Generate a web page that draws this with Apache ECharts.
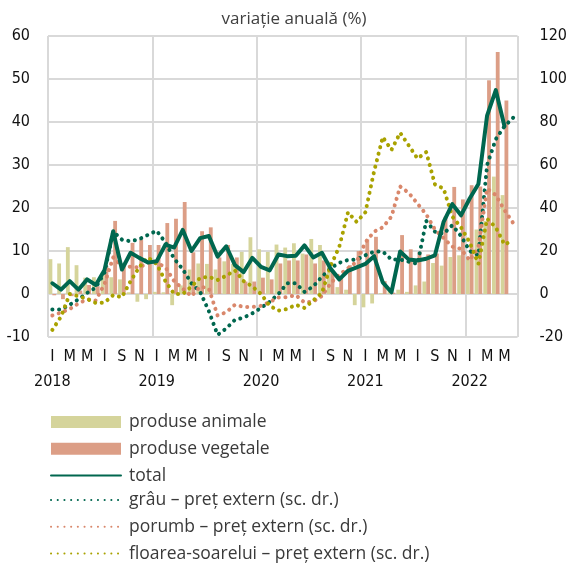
<!DOCTYPE html>
<html>
<head>
<meta charset="utf-8">
<script src="https://cdn.jsdelivr.net/npm/echarts@6/dist/echarts.min.js"></script>
<style>
  html, body { margin: 0; padding: 0; background: #fff; }
  #main { width: 570px; height: 565px; }
</style>
</head>
<body>
<div id="main"></div>
<script>
// ian 2018 - iun 2022, lunar
var years = [2018, 2019, 2020, 2021, 2022];
var monthLetters = ['I', 'F', 'M', 'A', 'M', 'I', 'I', 'A', 'S', 'O', 'N', 'D'];
var nMonths = 54;

// variatie anuala (%) - scala stanga
var animale = [8.1, 7.1, 10.9, 6.7, 3.8, 3.9, 5.0, 3.9, 3.4, 0.4, -1.8, -1.2,
  0.5, 0.4, -2.6, 2.0, 5.7, 7.1, 7.0, 5.7, 7.6, 7.0, 9.8, 13.2,
  10.4, 9.8, 11.5, 10.8, 11.8, 9.4, 12.8, 11.4, 7.5, 1.6, 1.0, -2.6,
  -3.1, -2.2, 0.2, 0.8, 1.0, 0.5, 2.0, 2.9, 7.2, 6.6, 8.6, 9.0,
  8.0, 15.0, 17.0, 27.3, 23.0];
var vegetale = [-0.3, -1.2, -0.5, 0.8, 2.1, 1.8, 6.5, 17.0, 6.8, 11.9, 12.7, 11.4,
  11.4, 16.5, 17.5, 21.4, 9.7, 14.6, 15.5, 8.5, 11.4, 8.5, 2.9, 2.9,
  3.8, 3.4, 7.1, 7.8, 7.8, 9.2, 7.1, 7.8, 5.5, 3.9, 6.7, 10.0,
  12.7, 13.3, 3.0, 0.3, 13.7, 10.4, 9.8, 9.2, 9.4, 18.0, 24.9, 22.0,
  25.3, 25.0, 49.7, 56.3, 45.0];
var total = [2.5, 1.0, 3.0, 1.0, 3.4, 2.1, 5.6, 14.6, 5.7, 9.6, 8.4, 7.3,
  7.6, 11.5, 10.8, 14.9, 10.0, 13.0, 13.5, 8.7, 11.1, 6.7, 5.1, 8.4,
  6.3, 5.5, 9.2, 8.8, 8.9, 11.3, 8.5, 9.6, 5.9, 3.4, 5.4, 6.2,
  7.0, 8.8, 2.7, 0.4, 9.9, 8.0, 7.8, 8.2, 9.0, 16.8, 20.9, 18.3,
  22.2, 25.6, 41.5, 47.4, 39.0];

// pret extern (%) - scala dreapta
var grau = [-7.2, -7.2, -5.0, -2.5, 0.5, 3.0, 10, 29, 25.3, 24.5, 25.5, 27.5,
  29.4, 24, 16.5, 11.5, 5, 1, -8, -19, -16, -12, -11, -9,
  -6.5, -3.6, 0, 5, 5, 1, 3.5, 8, 12, 14.5, 15.8, 16,
  18, 19.7, 19.8, 16, 16, 15, 14, 34, 29, 28, 32, 27,
  20, 18, 60, 72, 78, 82];
var porumb = [-10, -8.6, -7, -4.4, -2.5, -3, 4.7, 17, 13, 12.7, 12.3, 14.5,
  14.5, 12.5, 6, 2.5, -1, 3.5, 2.5, -10, -8.5, -5, -6, -6,
  -5.5, -3.7, -1.6, -1.5, -0.5, -4, -3.5, -1, 5, 9, 12, 15,
  24, 29, 31, 36, 50, 47, 42, 37, 30, 26, 22, 21,
  15.6, 22, 49, 46, 39, 33];
var floarea = [-16.7, -10.5, 0, -1, -2.3, -4.2, -4, -0.5, -1.5, 6, 12.5, 17,
  14, 6, 0, 0, 3.5, 7.5, 8, 6.5, 8.5, 11, 6, 3.5,
  0, -5.5, -7.7, -7, -5, -6.5, -3, 0.5, 13, 22, 38, 33.5,
  38, 57, 73, 67, 75, 69, 63, 66, 51, 49, 36, 31,
  24, 14, 35, 31, 23, 25];

var categories = [];
for (var i = 0; i < nMonths; i++) {
  categories.push(years[Math.floor(i / 12)] + '-' + (i % 12 + 1));
}

var cGreen = '#00674f';
var cSalmon = '#dc9e86';
var cKhaki = '#d5d49b';
var cSalmonDot = '#d9876b';
var cOlive = '#a9a200';
var axisFont = "'Liberation Sans Narrow', 'DejaVu Sans Condensed', 'Roboto', sans-serif";
var textFont = "'Open Sans', 'Lato', sans-serif";

function dotted(color) {
  return { color: color, width: 4, type: [0.1, 6.6], cap: 'round' };
}
function lineLegend(name) {
  return { name: name, itemStyle: { opacity: 0 } };
}
function legendBlock(top, items) {
  return {
    orient: 'vertical', left: 50, top: top, padding: 0,
    itemWidth: 70, itemHeight: 12, itemGap: 8.8,
    textStyle: { fontFamily: textFont, fontSize: 17.5, color: '#3a3a3a', padding: [0, 0, 0, 3] },
    data: items
  };
}

var myChart = echarts.init(document.getElementById('main'));
var option = {
  animation: false,
  title: {
    text: 'variație anuală (%)',
    left: 289, top: 6, textAlign: 'center',
    textStyle: { fontFamily: textFont, fontSize: 17, fontWeight: 'normal', color: '#404040' }
  },
  grid: { left: 48, right: 46, top: 36, bottom: 228 },
  legend: [
    legendBlock(413, [
      { name: 'produse animale', icon: 'rect' },
      { name: 'produse vegetale', icon: 'rect' },
      lineLegend('total')
    ]),
    legendBlock(491, [
      lineLegend('grâu – preț extern (sc. dr.)'),
      lineLegend('porumb – preț extern (sc. dr.)'),
      lineLegend('floarea-soarelui – preț extern (sc. dr.)')
    ])
  ],
  xAxis: [
    {
      type: 'category',
      data: categories,
      axisLine: { show: false },
      axisTick: { show: false },
      splitLine: {
        show: true,
        interval: function (idx) { return idx % 12 === 0; },
        lineStyle: { color: '#d9d9d9', width: 2 }
      },
      axisLabel: {
        interval: function (idx) { return idx % 2 === 0; },
        margin: 12,
        fontFamily: axisFont, fontSize: 16, color: '#111',
        formatter: function (val, idx) { return monthLetters[idx % 12]; }
      }
    },
    {
      // ani, sub literele lunilor
      type: 'category',
      data: categories,
      position: 'bottom',
      axisLine: { show: false },
      axisTick: { show: false },
      splitLine: { show: false },
      axisLabel: {
        interval: function (idx) { return idx % 12 === 0; },
        margin: 37,
        fontFamily: axisFont, fontSize: 16, color: '#111',
        formatter: function (val, idx) { return String(years[Math.floor(idx / 12)]); }
      }
    }
  ],
  yAxis: [
    {
      type: 'value', min: -10, max: 60, interval: 10,
      axisLine: { show: false }, axisTick: { show: false },
      splitLine: { lineStyle: { color: '#d9d9d9', width: 2 } },
      axisLabel: { margin: 18, fontFamily: axisFont, fontSize: 16, color: '#111' }
    },
    {
      type: 'value', min: -20, max: 120, interval: 20,
      axisLine: { show: false }, axisTick: { show: false },
      splitLine: { show: false },
      axisLabel: { margin: 22, fontFamily: axisFont, fontSize: 16, color: '#111' }
    }
  ],
  series: [
    {
      name: 'produse animale', type: 'bar', data: animale,
      itemStyle: { color: cKhaki }, barGap: '0%', barCategoryGap: '12%'
    },
    {
      name: 'produse vegetale', type: 'bar', data: vegetale,
      itemStyle: { color: cSalmon }, barGap: '0%', barCategoryGap: '12%'
    },
    {
      name: 'grâu – preț extern (sc. dr.)', type: 'line', yAxisIndex: 1, data: grau,
      symbol: 'none', itemStyle: { color: cGreen }, lineStyle: dotted(cGreen)
    },
    {
      name: 'porumb – preț extern (sc. dr.)', type: 'line', yAxisIndex: 1, data: porumb,
      symbol: 'none', itemStyle: { color: cSalmonDot }, lineStyle: dotted(cSalmonDot)
    },
    {
      name: 'floarea-soarelui – preț extern (sc. dr.)', type: 'line', yAxisIndex: 1, data: floarea,
      symbol: 'none', itemStyle: { color: cOlive }, lineStyle: dotted(cOlive)
    },
    {
      name: 'total', type: 'line', data: total, z: 3,
      symbol: 'none', itemStyle: { color: cGreen },
      lineStyle: { color: cGreen, width: 4, join: 'round', cap: 'round' }
    }
  ]
};

myChart.setOption(option);
</script>
</body>
</html>
